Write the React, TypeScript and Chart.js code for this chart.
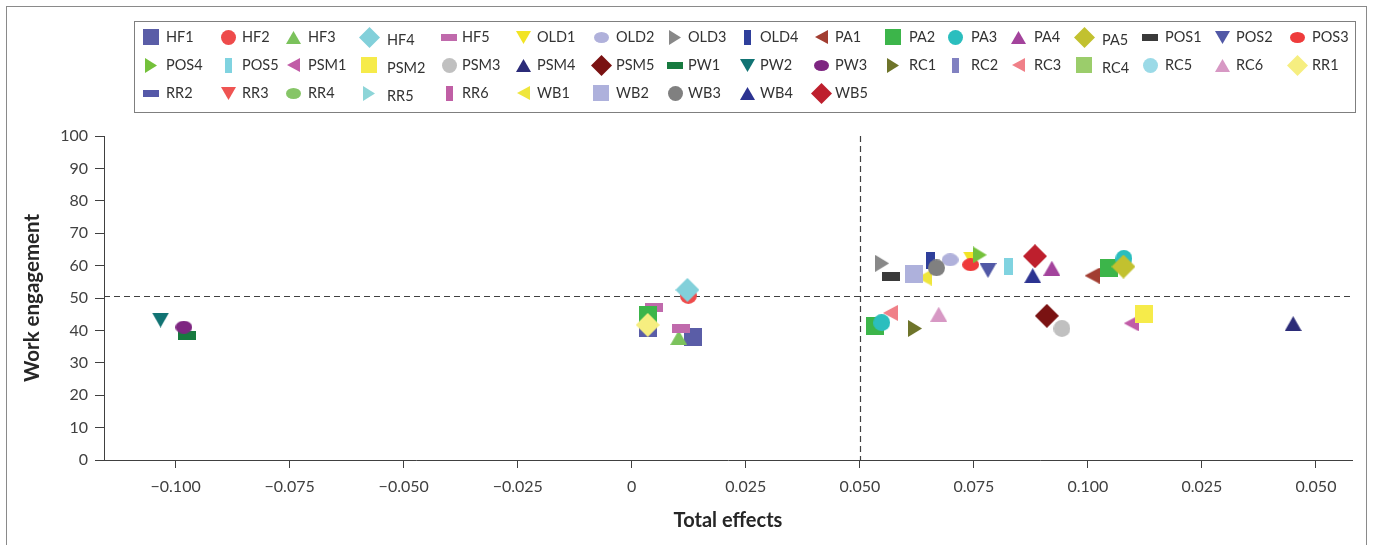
import React, { useEffect, useRef } from 'react';
import { Chart, registerables } from 'chart.js';

Chart.register(...registerables);

// ---------- data ----------
const SERIES = [
  'HF1', 'HF2', 'HF3', 'HF4', 'HF5', 'OLD1', 'OLD2', 'OLD3', 'OLD4', 'PA1', 'PA2', 'PA3', 'PA4', 'PA5', 'POS1', 'POS2', 'POS3',
  'POS4', 'POS5', 'PSM1', 'PSM2', 'PSM3', 'PSM4', 'PSM5', 'PW1', 'PW2', 'PW3', 'RC1', 'RC2', 'RC3', 'RC4', 'RC5', 'RC6', 'RR1',
  'RR2', 'RR3', 'RR4', 'RR5', 'RR6', 'WB1', 'WB2', 'WB3', 'WB4', 'WB5',
];

// Total effects (x) for each series, in the same order as SERIES
const TOTAL_EFFECTS: number[][] = [
  [0.0134, 0.0035], [0.0124], [0.0103], [0.0122], [0.0049, 0.0107], [0.0745], [0.0698], [0.0549], [0.0654], [0.1009],
  [0.1047, 0.0035, 0.0534], [0.1079, 0.0548], [0.0921], [0.1078], [0.0568], [0.0781], [0.0743],
  [0.0763], [0.0825], [0.1095], [0.1124], [0.0943], [0.145], [0.091], [-0.0976], [-0.1033], [-0.0982], [0.0621], [], [0.0567], [], [], [0.0673], [0.0035],
  [], [], [], [], [], [0.0641], [0.0619], [0.0668], [0.0879], [0.0884],
];

// Work engagement (y) for each series, in the same order as SERIES
const WORK_ENGAGEMENT: number[][] = [
  [38.1, 40.6], [50.8], [37.8], [52.5], [47.0, 40.6], [62.0], [61.8], [60.7], [61.5], [56.9],
  [59.3, 44.8, 41.3], [62.2, 42.4], [59.2], [59.7], [56.6], [58.5], [60.3],
  [63.3], [59.8], [42.2], [45.0], [40.6], [42.1], [44.5], [38.4], [43.2], [41.0], [40.6], [], [45.4], [], [], [45.0], [41.7],
  [], [], [], [], [], [56.3], [57.5], [59.3], [56.9], [62.9],
];

const X_TICK_VALUES = [-0.1, -0.075, -0.05, -0.025, 0, 0.025, 0.05, 0.075, 0.1, 0.125, 0.15];
const X_TICK_LABELS = ['−0.100', '−0.075', '−0.050', '−0.025', '0', '0.025', '0.050', '0.075', '0.100', '0.025', '0.050'];
const Y_TICK_VALUES = [0, 10, 20, 30, 40, 50, 60, 70, 80, 90, 100];
const REF_X = 0.05;
const REF_Y = 50.7;

// ---------- styles ----------
const COLORS = [
  '#5A5DA7', '#EE4B4B', '#7BC25C', '#82D0DA', '#C06AAC', '#F2E424', '#B0B1DB', '#888888', '#2F3F9B', '#A23D31',
  '#3CB54A', '#2BBEBE', '#A3439C', '#C2C12F', '#3A3A3A', '#5158A6', '#EE3B3B',
  '#74C13B', '#80D3E0', '#C15CA7', '#F6EB4A', '#C0C0C0', '#2B2B78', '#7A1212', '#177A3F', '#117373', '#7E2681', '#6E742A', '#8181C1', '#F08088', '#9BCD6B', '#9BDAE7', '#D798C4', '#F6EE80',
  '#5558A8', '#EF5452', '#86C567', '#8DD5D8', '#C05FA5', '#EFE63C', '#AEB1DC', '#808080', '#2C3391', '#BE1F2D',
];
const SHAPE_CYCLE = ['square', 'circle', 'triangle', 'diamond', 'hbar', 'invtri', 'ellipse', 'righttri', 'vbar', 'lefttri'];
const SHAPE_SIZE: Record<string, [number, number]> = {
  square: [18, 18], circle: [17, 17], triangle: [17, 15], diamond: [24, 24], hbar: [18, 8.5],
  invtri: [17, 15], ellipse: [17, 12.5], righttri: [14, 17], vbar: [8.5, 17], lefttri: [15, 16],
};
const LEGEND_MARKER_X = [151, 228, 293, 369, 449, 523, 601, 675, 747, 821, 893, 955, 1018, 1084, 1150, 1222, 1297];
const LEGEND_TEXT_X = [166, 242, 308, 387, 462, 537, 616, 688, 760, 835, 909, 971, 1034, 1102, 1165, 1236, 1312];
const LEGEND_ROW_Y = [37, 65, 93];
const FONT = 'Lato, "Open Sans", sans-serif';
const AXIS_COLOR = '#404040';

Chart.defaults.font.family = FONT;

function makeMarker(shape: string, color: string, scale: number): HTMLCanvasElement {
  const [w0, h0] = SHAPE_SIZE[shape];
  const w = Math.max(1, Math.round(w0 * scale));
  const h = Math.max(1, Math.round(h0 * scale));
  const c = document.createElement('canvas');
  c.width = w;
  c.height = h;
  const g = c.getContext('2d') as CanvasRenderingContext2D;
  g.fillStyle = color;
  g.beginPath();
  switch (shape) {
    case 'square':
    case 'hbar':
    case 'vbar':
      g.rect(0, 0, w, h);
      break;
    case 'circle':
    case 'ellipse':
      g.ellipse(w / 2, h / 2, w / 2, h / 2, 0, 0, Math.PI * 2);
      break;
    case 'triangle':
      g.moveTo(w / 2, 0); g.lineTo(w, h); g.lineTo(0, h);
      break;
    case 'invtri':
      g.moveTo(0, 0); g.lineTo(w, 0); g.lineTo(w / 2, h);
      break;
    case 'righttri':
      g.moveTo(0, 0); g.lineTo(w, h / 2); g.lineTo(0, h);
      break;
    case 'lefttri':
      g.moveTo(w, 0); g.lineTo(0, h / 2); g.lineTo(w, h);
      break;
    case 'diamond':
      g.moveTo(w / 2, 0); g.lineTo(w, h / 2); g.lineTo(w / 2, h); g.lineTo(0, h / 2);
      break;
  }
  g.closePath();
  g.fill();
  return c;
}

export default function App() {
  const ref = useRef<HTMLCanvasElement | null>(null);

  useEffect(() => {
    if (!ref.current) return;
    const legendMarkers = SERIES.map((_, i) => makeMarker(SHAPE_CYCLE[i % SHAPE_CYCLE.length], COLORS[i], 0.88));

    const datasets = SERIES.map((name, i) => ({
      label: name,
      data: TOTAL_EFFECTS[i].map((x, j) => ({ x, y: WORK_ENGAGEMENT[i][j] })),
      pointStyle: makeMarker(SHAPE_CYCLE[i % SHAPE_CYCLE.length], COLORS[i], 1),
      pointRadius: 6,
      showLine: false,
      order: -i,
    }));

    const framePlugin = {
      id: 'frame',
      beforeDraw(chart: any) {
        const ctx = chart.ctx;
        ctx.save();
        ctx.fillStyle = '#ffffff';
        ctx.fillRect(0, 0, chart.width, chart.height);
        ctx.strokeStyle = '#8a8a8a';
        ctx.lineWidth = 1;
        ctx.strokeRect(6.5, 6.5, 1360, 700);
        ctx.restore();
      },
    };

    const refLinesPlugin = {
      id: 'refLines',
      beforeDatasetsDraw(chart: any) {
        const { ctx, chartArea, scales } = chart;
        const px = Math.round(scales.x.getPixelForValue(REF_X)) + 0.5;
        const py = Math.round(scales.y.getPixelForValue(REF_Y)) + 0.5;
        ctx.save();
        ctx.strokeStyle = '#404040';
        ctx.lineWidth = 1.2;
        ctx.setLineDash([6, 4]);
        ctx.beginPath();
        ctx.moveTo(chartArea.left, py);
        ctx.lineTo(chartArea.right, py);
        ctx.moveTo(px, chartArea.top);
        ctx.lineTo(px, chartArea.bottom);
        ctx.stroke();
        ctx.restore();
      },
    };

    const legendPlugin = {
      id: 'gridLegend',
      afterDraw(chart: any) {
        const ctx = chart.ctx;
        ctx.save();
        ctx.strokeStyle = '#7f7f7f';
        ctx.lineWidth = 1;
        ctx.strokeRect(134.5, 21.5, 1221, 91);
        ctx.font = '14.5px ' + FONT;
        ctx.fillStyle = '#333333';
        ctx.textBaseline = 'middle';
        ctx.textAlign = 'left';
        chart.data.datasets.forEach((ds: any, i: number) => {
          const col = i % LEGEND_MARKER_X.length;
          const row = Math.floor(i / LEGEND_MARKER_X.length);
          const img = legendMarkers[i];
          const y = LEGEND_ROW_Y[row];
          ctx.drawImage(img, Math.round(LEGEND_MARKER_X[col] - img.width / 2), Math.round(y - img.height / 2));
          ctx.fillText(ds.label, LEGEND_TEXT_X[col], y + (col === 3 || col === 13 ? 3 : 0));
        });
        ctx.restore();
      },
    };

    const chart = new Chart(ref.current, {
      type: 'scatter',
      data: { datasets: datasets as any },
      options: {
        responsive: false,
        animation: false,
        events: [],
        layout: { padding: { top: 136, right: 21, left: 0, bottom: 0 } },
        plugins: { legend: { display: false }, tooltip: { enabled: false } },
        scales: {
          x: {
            type: 'linear',
            min: -0.1157,
            max: 0.1579,
            afterBuildTicks: (s: any) => { s.ticks = X_TICK_VALUES.map((v) => ({ value: v })); },
            afterFit: (s: any) => { s.height = 85; },
            ticks: {
              callback: (_v: any, idx: number) => X_TICK_LABELS[idx],
              font: { size: 16 },
              color: AXIS_COLOR,
              padding: 9,
              maxRotation: 0,
              autoSkip: false,
            },
            grid: { drawOnChartArea: false, drawTicks: true, tickLength: 8, color: AXIS_COLOR },
            border: { display: true, color: AXIS_COLOR, width: 1 },
            title: {
              display: true,
              text: 'Total effects',
              font: { size: 20, weight: 'bold' },
              color: '#262626',
              padding: { top: 0, bottom: 12 },
            },
          },
          y: {
            type: 'linear',
            min: 0,
            max: 100,
            afterBuildTicks: (s: any) => { s.ticks = Y_TICK_VALUES.map((v) => ({ value: v })); },
            afterFit: (s: any) => { s.width = 104; },
            ticks: { font: { size: 16 }, color: AXIS_COLOR, padding: 7 },
            grid: { drawOnChartArea: false, drawTicks: true, tickLength: 9, color: AXIS_COLOR },
            border: { display: true, color: AXIS_COLOR, width: 1 },
            title: {
              display: true,
              text: 'Work engagement',
              font: { size: 20.5, weight: 'bold' },
              color: '#262626',
              padding: { top: 20, bottom: 0 },
            },
          },
        },
      } as any,
      plugins: [framePlugin, refLinesPlugin, legendPlugin],
    });
    return () => chart.destroy();
  }, []);

  return (
    <div style={{ position: 'fixed', left: 0, top: 0, width: 1373, height: 545, background: '#fff' }}>
      <canvas ref={ref} width={1373} height={545} />
    </div>
  );
}
